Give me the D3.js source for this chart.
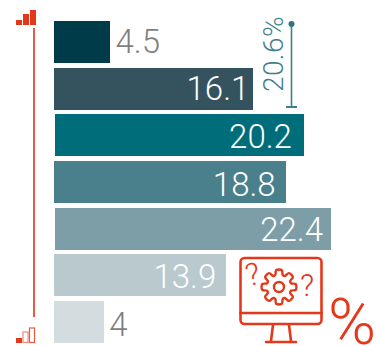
<!DOCTYPE html>
<html>
<head>
<meta charset="utf-8">
<script src="https://cdn.jsdelivr.net/npm/d3@7"></script>
<style>
html, body { margin: 0; padding: 0; background: #fff; }
svg { display: block; }
text { font-family: Roboto, sans-serif; font-weight: 300; }
</style>
</head>
<body>
<svg id="chart" width="376" height="346"></svg>
<script>
// data
var values = [4.5, 16.1, 20.2, 18.8, 22.4, 13.9, 4];
var labels = ["4.5", "16.1", "20.2", "18.8", "22.4", "13.9", "4"];
var colors = ["#003b49", "#35535f", "#006d7a", "#4a7f8c", "#7d9ea6", "#bac9ce", "#d3dcde"];
var bracketLabel = "20.6%";

var red = "#e4381a", teal = "#3f7f8c";

var svg = d3.select("#chart");

var x = d3.scaleLinear().domain([0, 22.4]).range([0, 276]);
var y = d3.scaleBand().domain(d3.range(values.length)).range([21, 343]).paddingInner(0.1).paddingOuter(0);

// the third and fifth bars sit one pixel to the right in the original
function left(i) { return (i === 2 || i === 4) ? 55 : 54; }

// hand nudges for the labels, the original is not quite regular
var nudgeX = [0, 5, -4, -2, 0, -1, 0];
var nudgeY = [0, 0, 2, 3, 1, 2, 3];

svg.selectAll("rect.bar")
    .data(values)
    .enter().append("rect")
    .attr("class", "bar")
    .attr("x", function (d, i) { return left(i); })
    .attr("y", function (d, i) { return Math.round(y(i)); })
    .attr("width", function (d) { return Math.ceil(x(d)); })
    .attr("height", Math.round(y.bandwidth()))
    .attr("fill", function (d, i) { return colors[i]; });

// short bars get their label outside
svg.selectAll("text.val")
    .data(values)
    .enter().append("text")
    .attr("class", "val")
    .attr("x", function (d, i) {
        var end = left(i) + x(d) + nudgeX[i];
        return d < 10 ? end + 6 : end - 8;
    })
    .attr("y", function (d, i) { return Math.round(y(i)) + 32 + nudgeY[i]; })
    .attr("text-anchor", function (d) { return d < 10 ? "start" : "end"; })
    .attr("fill", function (d) { return d < 10 ? "#7f7f7f" : "#fff"; })
    .attr("font-size", 33)
    .text(function (d, i) { return labels[i]; });

// vertical red line with the small bar icons
svg.append("rect").attr("x", 33).attr("y", 28).attr("width", 2).attr("height", 289).attr("fill", "#ea5a40");

var topIcon = svg.append("g").attr("fill", red);
topIcon.append("rect").attr("x", 16).attr("y", 20).attr("width", 6).attr("height", 5);
topIcon.append("rect").attr("x", 23).attr("y", 14).attr("width", 6).attr("height", 11);
topIcon.append("rect").attr("x", 30).attr("y", 10).attr("width", 6).attr("height", 15);

var bottomIcon = svg.append("g");
bottomIcon.append("rect").attr("x", 16).attr("y", 338).attr("width", 6).attr("height", 5).attr("fill", red);
bottomIcon.append("rect").attr("x", 23).attr("y", 332).attr("width", 5).attr("height", 10.5)
    .attr("fill", "none").attr("stroke", "#f08a76").attr("stroke-width", 1.2);
bottomIcon.append("rect").attr("x", 29.5).attr("y", 328).attr("width", 5).attr("height", 14.5)
    .attr("fill", "none").attr("stroke", "#ea5a40").attr("stroke-width", 1.2);

// bracket
var b = svg.append("g").attr("stroke", teal).attr("fill", teal);
b.append("line").attr("x1", 291.5).attr("x2", 291.5).attr("y1", 24).attr("y2", 107).attr("stroke-width", 1.6);
b.append("circle").attr("cx", 291.5).attr("cy", 24).attr("r", 3).attr("stroke", "none").attr("fill", "#2f7480");
b.append("line").attr("x1", 286).attr("x2", 297).attr("y1", 107).attr("y2", 107).attr("stroke-width", 2);

svg.append("text")
    .attr("transform", "translate(283,92) rotate(-90)")
    .attr("font-size", 28)
    .attr("letter-spacing", 0.4)
    .attr("fill", teal)
    .text(bracketLabel);

// monitor icon
var m = svg.append("g").attr("fill", "none").attr("stroke", red).attr("stroke-width", 2.6)
    .attr("stroke-linecap", "round").attr("stroke-linejoin", "round");
m.append("rect").attr("x", 240.5).attr("y", 258).attr("width", 81).attr("height", 66).attr("rx", 4);
m.append("line").attr("x1", 240.5).attr("x2", 321.5).attr("y1", 313).attr("y2", 313);
m.append("path").attr("d", "M273 325L271 341M289 325L291 341M266 342H296");

// gear, teeth built around the centre
var cx = 279, cy = 287, teeth = 8, rOut = 17, rIn = 12.5, pts = [];
d3.range(teeth).forEach(function (i) {
    var a = i * 2 * Math.PI / teeth - Math.PI / 2, w = 0.17, g = 0.24;
    [[rIn, a - g - 0.06], [rOut, a - w], [rOut, a + w], [rIn, a + g + 0.06]].forEach(function (p) {
        pts.push([cx + p[0] * Math.cos(p[1]), cy + p[0] * Math.sin(p[1])]);
    });
});
m.append("path").attr("d", d3.line().curve(d3.curveCatmullRomClosed.alpha(0.5))(pts)).attr("stroke-width", 2.4);
m.append("circle").attr("cx", cx).attr("cy", cy).attr("r", 5).attr("stroke-width", 2.4);

svg.append("text").attr("x", 246).attr("y", 285).attr("font-size", 31).attr("font-weight", 400).attr("fill", red)
    .attr("transform", "rotate(-12 253 276)").text("?");
svg.append("text").attr("x", 300).attr("y", 296).attr("font-size", 31).attr("font-weight", 400).attr("fill", red).text("?");

// sits on the bottom edge like in the original
svg.append("text").attr("x", 328).attr("y", 344).attr("font-size", 65).attr("fill", red).text("%");
</script>
</body>
</html>
